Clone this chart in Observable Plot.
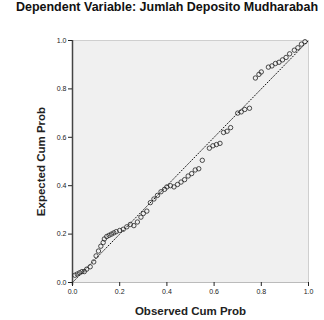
<!DOCTYPE html>
<html>
<head>
<meta charset="utf-8">
<script src="https://cdn.jsdelivr.net/npm/d3@7"></script>
<script src="https://cdn.jsdelivr.net/npm/@observablehq/plot@0.6"></script>
<style>
  html, body { margin: 0; padding: 0; background: #fff; }
  #title { height: 26px; line-height: 28px; text-align: center; font: bold 12.5px "Liberation Sans", Arial, sans-serif; color: #111; white-space: nowrap; width: 324px; padding-left: 10px; box-sizing: border-box; }
</style>
</head>
<body>
<div id="title">Dependent Variable: Jumlah Deposito Mudharabah</div>
<div id="chart"></div>
<script>
const titleText = "Dependent Variable: Jumlah Deposito Mudharabah";
const xLabel = "Observed Cum Prob";
const yLabel = "Expected Cum Prob";
const tickValues = [0, 0.2, 0.4, 0.6, 0.8, 1.0];

const observed = [0.010, 0.020, 0.030, 0.040, 0.050, 0.060, 0.075, 0.090, 0.100, 0.110, 0.120, 0.130, 0.135,
  0.145, 0.155, 0.165, 0.175, 0.185, 0.200, 0.215, 0.230, 0.245, 0.260, 0.275, 0.290, 0.300, 0.315,
  0.330, 0.345, 0.360, 0.375, 0.390, 0.400, 0.415, 0.430, 0.445, 0.460, 0.475, 0.490, 0.505, 0.520,
  0.535, 0.550, 0.580, 0.595, 0.610, 0.625, 0.640, 0.655, 0.670, 0.700, 0.715, 0.730, 0.750, 0.775,
  0.790, 0.800, 0.830, 0.845, 0.860, 0.875, 0.890, 0.905, 0.920, 0.940, 0.955, 0.970, 0.985];
const expected = [0.030, 0.035, 0.040, 0.045, 0.045, 0.055, 0.065, 0.085, 0.110, 0.130, 0.150, 0.165, 0.180,
  0.190, 0.195, 0.200, 0.205, 0.210, 0.215, 0.220, 0.230, 0.240, 0.235, 0.250, 0.270, 0.285, 0.295,
  0.330, 0.345, 0.360, 0.375, 0.385, 0.395, 0.400, 0.395, 0.405, 0.415, 0.425, 0.440, 0.450, 0.465,
  0.470, 0.505, 0.555, 0.565, 0.570, 0.575, 0.620, 0.625, 0.640, 0.700, 0.705, 0.715, 0.720, 0.845,
  0.860, 0.870, 0.890, 0.895, 0.905, 0.910, 0.920, 0.930, 0.945, 0.960, 0.970, 0.985, 0.995];

const points = observed.map((o, i) => ({observed: o, expected: expected[i]}));
const diagonal = [{observed: 0, expected: 0}, {observed: 1, expected: 1}];

document.getElementById("title").textContent = titleText;

const chart = Plot.plot({
  width: 324,
  height: 294,
  marginLeft: 72,
  marginRight: 16,
  marginTop: 14,
  marginBottom: 38,
  style: {fontFamily: "'Liberation Sans', Arial, sans-serif", background: "#fff", color: "#222"},
  x: {domain: [0, 1]},
  y: {domain: [0, 1]},
  marks: [
    Plot.frame({fill: "#f0f0f0", stroke: "#cfcfcf"}),
    Plot.ruleY([0], {stroke: "#bbb"}),
    Plot.ruleX([0], {stroke: "#444", strokeWidth: 1.5, y1: -0.012, y2: 1}),
    Plot.line(diagonal, {x: "observed", y: "expected", stroke: "#111", strokeWidth: 1, strokeDasharray: "1,2"}),
    Plot.dot(points, {x: "observed", y: "expected", r: 2.2, stroke: "#222", strokeWidth: 0.8, fill: "none"}),
    Plot.axisX({ticks: tickValues, tickFormat: d3.format(".1f"), tickSize: 4, tickPadding: 3, fontSize: 7,
      label: xLabel, labelAnchor: "center", labelArrow: "none", labelOffset: 32}),
    Plot.axisY({ticks: tickValues, tickFormat: d3.format(".1f"), tickSize: 4, tickPadding: 2, fontSize: 7,
      label: yLabel, labelAnchor: "center", labelArrow: "none", labelOffset: 36})
  ]
});
chart.querySelectorAll("g[aria-label='x-axis label'] text, g[aria-label='y-axis label'] text").forEach(t => {
  t.setAttribute("font-weight", "bold");
  t.setAttribute("font-size", "11.5");
});
document.getElementById("chart").appendChild(chart);
</script>
</body>
</html>
